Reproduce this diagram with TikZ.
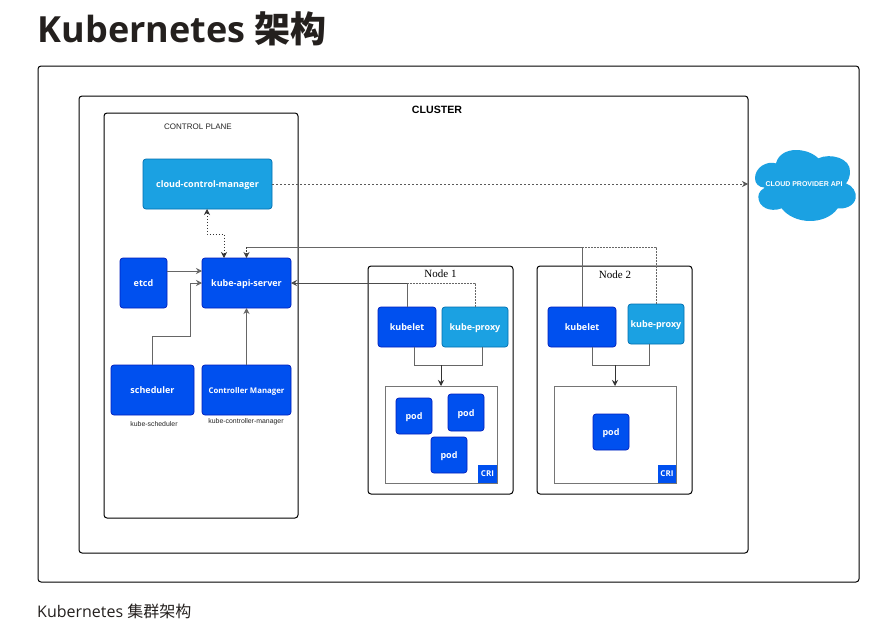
\documentclass[tikz,border=0pt]{standalone}
\usepackage{fontspec}
\setmainfont{Open Sans}
\newfontfamily\cjk{Noto Sans CJK SC}
\newfontfamily\lsans{Liberation Sans}
\newfontfamily\lserif{Liberation Serif}
\usetikzlibrary{arrows.meta,calc}
\definecolor{cobalt}{HTML}{0050EF}
\definecolor{cobaltline}{HTML}{001DBC}
\definecolor{sky}{HTML}{1BA1E2}
\definecolor{skyline}{HTML}{006EAF}
\definecolor{ink}{HTML}{24201E}
\definecolor{wire}{HTML}{666666}
\tikzset{
  allbox/.style={inner sep=0pt,outer sep=0pt,align=center},
  frame/.style={allbox,draw=black,line width=1pt,rounded corners=3pt},
  blue/.style={allbox,draw=cobaltline,fill=cobalt,line width=0.7pt,rounded corners=3pt,text=white,text height=9pt,text depth=2pt,font=\fontsize{9}{10}\selectfont\bfseries},
  light/.style={allbox,draw=skyline,fill=sky,line width=0.7pt,rounded corners=3pt,text=white,text height=9pt,text depth=2pt,font=\fontsize{9}{10}\selectfont\bfseries},
  crisp/.style={allbox,draw=wire!90,line width=1pt},
  crilabel/.style={allbox,fill=cobalt,text=white,font=\fontsize{8}{9}\selectfont\bfseries},
  small/.style={inner sep=0pt,text=black!85,font=\lsans\fontsize{6.9}{8}\selectfont},
  wiresolid/.style={draw=wire,line width=0.8pt},
  wiredot/.style={draw=black!60,line width=0.7pt,dash pattern=on 1.6pt off 1.4pt},
  tip/.style={-{Stealth[length=6pt,width=6pt]}},
  tipboth/.style={{Stealth[length=6pt,width=6pt]}-{Stealth[length=6pt,width=6pt]}},
}
\newcommand{\bx}[7]{\node[#1,minimum width={#5-#3},minimum height={#6-#4}] (#2) at ({(#3+#5)/2},{(#4+#6)/2}) {#7};}
\begin{document}
\begin{tikzpicture}[x=1pt,y=-1pt]
\useasboundingbox[fill=white] (0,0) rectangle (876,640);
% headings
\node[anchor=base west,inner sep=0pt,text=ink,font=\fontsize{36}{40}\selectfont\bfseries] (title) at (37.5,42) {Kubernetes {\cjk\bfseries 架构}};
\node[anchor=base west,inner sep=0pt,text=ink,font=\fontsize{16}{18}\selectfont] (caption) at (37,617) {Kubernetes {\cjk 集群架构}};
% frames
\bx{frame}{outer}{38}{66}{859}{582}{}
\bx{frame}{cluster}{79}{96}{748}{553}{}
\bx{frame}{cp}{104}{113}{298}{518}{}
\bx{frame}{nodeone}{368}{266}{513}{494}{}
\bx{frame}{nodetwo}{537}{266}{692}{494}{}
\node[inner sep=0pt,font=\lsans\bfseries\fontsize{10.6}{12}\selectfont] (clusterlabel) at (437,109.5) {CLUSTER};
\node[inner sep=0pt,text=black!85,font=\lsans\fontsize{8}{9}\selectfont] (cplabel) at (198,127) {CONTROL PLANE};
\node[inner sep=0pt,font=\lserif\fontsize{11}{12}\selectfont] (n1label) at (440.5,274) {Node 1};
\node[inner sep=0pt,font=\lserif\fontsize{11}{12}\selectfont] (n2label) at (615,275) {Node 2};
% control plane
\bx{light}{ccm}{143}{159}{272}{209}{cloud-control-manager}
\bx{blue}{etcd}{120}{258}{167}{308}{etcd}
\bx{blue}{api}{202}{258}{291}{308}{kube-api-server}
\bx{blue}{sched}{111}{365}{194}{415}{scheduler}
\bx{blue}{ctrl}{202}{365}{291}{415}{\fontsize{7.8}{9}\selectfont Controller Manager}
\node[small] (schedlabel) at (154,424) {kube-scheduler};
\node[small] (ctrllabel) at (246,422) {kube-controller-manager};
% workers
\bx{blue}{kla}{378}{307}{436}{347}{kubelet}
\bx{light}{pxa}{442}{307}{508}{347}{kube-proxy}
\bx{blue}{klb}{548}{307}{616}{347}{kubelet}
\bx{light}{pxb}{628}{304}{684}{344}{kube-proxy}
\bx{crisp}{cria}{385}{386}{497}{483}{}
\bx{crisp}{crib}{554}{386}{676}{483}{}
\bx{crilabel}{cla}{478}{465}{497}{483}{CRI}
\bx{crilabel}{clb}{658}{465}{676}{483}{CRI}
\bx{blue}{poda}{396}{398}{432}{434}{pod}
\bx{blue}{podb}{448}{394}{484}{431}{pod}
\bx{blue}{podc}{431}{437}{467}{473}{pod}
\bx{blue}{podd}{593}{414}{629}{450}{pod}
% cloud
\begin{scope}[shift={(700,130)},x=0.3333pt,y=-0.3333pt]
\fill[sky] (165,145)
  .. controls (165,112) and (200,92) .. (228,100)
  .. controls (235,72) and (262,60) .. (288,60)
  .. controls (315,60) and (340,70) .. (355,85)
  .. controls (392,68) and (452,85) .. (450,125)
  .. controls (450,140) and (445,152) .. (438,160)
  .. controls (458,168) and (470,185) .. (467,205)
  .. controls (462,228) and (435,238) .. (413,235)
  .. controls (395,262) and (360,273) .. (330,273)
  .. controls (295,273) and (262,258) .. (245,235)
  .. controls (210,248) and (175,232) .. (175,200)
  .. controls (175,188) and (185,178) .. (195,173)
  .. controls (175,172) and (165,160) .. (165,145) -- cycle;
\end{scope}
\node[allbox,minimum width=101pt,minimum height=71pt,text=white,font=\lsans\bfseries\fontsize{7}{8}\selectfont] (cloud) at (804,184) {CLOUD PROVIDER API};
% connectors
\coordinate (ccmdrop) at (207,209);
\coordinate (apidrop) at (224,258);
\draw[draw=black!80,line width=0.7pt,dash pattern=on 1.6pt off 1.4pt,tipboth] (ccmdrop) -- (207,234) -- (224,234) -- (apidrop);
\draw[draw=black!65,line width=0.6pt,dash pattern=on 2pt off 2pt,tip,shorten >=5.5pt] (ccm.east) -- (cloud.west);
\coordinate (etcdout) at (167,271);
\coordinate (apiin) at (202,271);
\draw[wiresolid,tip] (etcdout) -- (apiin);
\draw[wiresolid,tip] (sched.north) |- (190,336) |- (202,283);
\draw[wiresolid,tip] (ctrl.north) -- (api.south);
\coordinate (busb) at (246.5,247);
\draw[wiresolid] (klb.north) |- (busb);
\draw[wiredot] (pxb.north) |- (busb);
\draw[draw=black!75,line width=0.7pt,dash pattern=on 1.6pt off 1.4pt,tip] (busb) -- (api.north);
\coordinate (busa) at (407,283);
\draw[wiresolid] (kla.north) -- (busa);
\draw[wiredot] (pxa.north) |- (busa);
\draw[wiresolid,draw=black!70,tip] (busa) -- (api.east);
% kubelet and proxy to CRI
\coordinate (ja) at (441,365);
\coordinate (jb) at (615,365);
\draw[wiresolid] (414,347) |- (ja);
\draw[wiresolid] (482,347) |- (ja);
\draw[wiresolid] (592,347) |- (jb);
\draw[wiresolid] (649,344) |- (jb);
\draw[draw=black!80,line width=0.8pt,tip] (ja) -- (ja |- cria.north);
\draw[draw=black!80,line width=0.8pt,tip] (jb) -- (jb |- crib.north);
\end{tikzpicture}
\end{document}
